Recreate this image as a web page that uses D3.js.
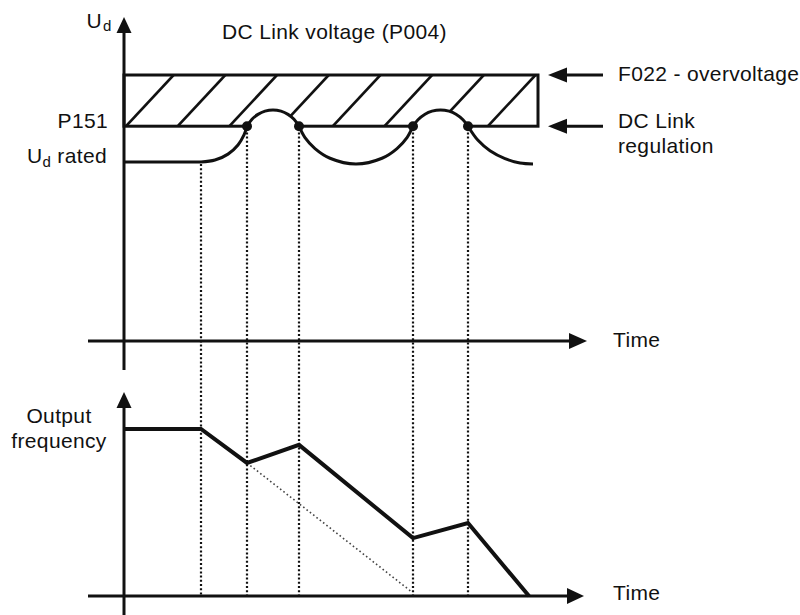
<!DOCTYPE html>
<html>
<head>
<meta charset="utf-8">
<script src="https://cdn.jsdelivr.net/npm/d3@7"></script>
<style>
  body { margin: 0; background: #fff; }
  text { font-family: "Liberation Sans", Arial, sans-serif; font-size: 21px; letter-spacing: 0.35px; fill: #111; }
</style>
</head>
<body>
<script>
// Time marks where the DC link regulation starts / stops
const events = [7.7, 12.3, 17.5, 28.9, 34.4];

// DC link levels (% of rated)
const udRated = 100;
const p151 = 120;
const f022 = 148.6;

// U_d curve, one piece between each pair of marks  [time, voltage]
const udFlat = [[0, 100], [7.7, 100]];
const udSegments = [
  [[7.7, 100], [9.1, 101.1], [10.4, 104.4], [11.4, 109.5], [12.0, 115.1], [12.3, 120]],
  [[12.3, 120], [12.8, 123.9], [13.4, 126.6], [14.1, 128.4], [14.9, 129.1], [15.7, 128.4], [16.4, 126.6], [17.0, 123.9], [17.5, 120]],
  [[17.5, 120], [18.1, 113.6], [19.1, 107.5], [20.6, 102.1], [23.2, 98.9], [25.8, 102.1], [27.3, 107.5], [28.3, 113.6], [28.9, 120]],
  [[28.9, 120], [29.4, 123.6], [30.1, 126.7], [30.8, 128.4], [31.65, 129.1], [32.5, 128.4], [33.2, 126.7], [33.9, 123.6], [34.4, 120]],
  [[34.4, 120], [35.4, 112.1], [36.6, 106.3], [38.1, 101.9], [39.6, 99.4], [40.9, 98.9]]
];
const bulges = [1, 3]; // pieces that rise above P151

// Output frequency
const freqTime = [0, 7.7, 12.3, 17.5, 28.9, 34.4, 40.5];
const freqVal = [60, 60, 47.8, 54.3, 20.8, 26.2, 0];
// ramp without regulation (dotted)
const rampTime = [12.3, 28.8];
const rampVal = [47.8, 1.4];

const width = 800, height = 615;

const svg = d3.select('body')
  .append('svg')
  .attr('width', width)
  .attr('height', height);

// Scales
const x = d3.scaleLinear().domain([0, 10]).range([124, 224]);
const yU = d3.scaleLinear().domain([0, 100]).range([341, 162]);
const yF = d3.scaleLinear().domain([0, 60]).range([596, 429]);

const ink = '#111';

function arrowHead(tx, ty, dir, len, half) {
  let pts;
  if (dir === 'up') pts = [[tx, ty], [tx - half, ty + len], [tx + half, ty + len]];
  else if (dir === 'right') pts = [[tx, ty], [tx - len, ty - half], [tx - len, ty + half]];
  else pts = [[tx, ty], [tx + len, ty - half], [tx + len, ty + half]];
  svg.append('polygon').attr('points', pts.map(p => p.join(',')).join(' ')).attr('fill', ink);
}

function hline(x1, x2, y, w) {
  svg.append('line').attr('x1', x1).attr('x2', x2).attr('y1', y).attr('y2', y)
    .attr('stroke', ink).attr('stroke-width', w);
}
function vline(xx, y1, y2, w) {
  svg.append('line').attr('x1', xx).attr('x2', xx).attr('y1', y1).attr('y2', y2)
    .attr('stroke', ink).attr('stroke-width', w);
}

// Hatched overvoltage band
svg.append('clipPath').attr('id', 'band')
  .append('rect')
  .attr('x', x(0)).attr('y', yU(f022))
  .attr('width', x(41.4) - x(0)).attr('height', yU(p151) - yU(f022));

const bandH = yU(p151) - yU(f022);
svg.append('g').attr('clip-path', 'url(#band)')
  .selectAll('line')
  .data(d3.range(-2, 9))
  .join('line')
  .attr('x1', i => x(0.2) + i * 51.7)
  .attr('y1', yU(p151))
  .attr('x2', i => x(0.2) + i * 51.7 + bandH * 0.93)
  .attr('y2', yU(f022))
  .attr('stroke', ink)
  .attr('stroke-width', 2.6);

svg.append('rect')
  .attr('x', x(0)).attr('y', yU(f022))
  .attr('width', x(41.4) - x(0)).attr('height', yU(p151) - yU(f022))
  .attr('fill', 'none').attr('stroke', ink).attr('stroke-width', 3);

// Curve
const line = d3.line()
  .x(d => x(d[0]))
  .y(d => yU(d[1]))
  .curve(d3.curveCatmullRom.alpha(0.5));

// white inside bulges (hides hatch and band border)
bulges.forEach(i => {
  const seg = udSegments[i];
  const first = seg[0], last = seg[seg.length - 1];
  svg.append('path')
    .attr('d', line(seg) + `L${x(last[0])},${yU(p151) + 2}L${x(first[0])},${yU(p151) + 2}Z`)
    .attr('fill', '#fff');
});

svg.append('path')
  .attr('d', d3.line().x(d => x(d[0])).y(d => yU(d[1]))(udFlat))
  .attr('stroke', ink)
  .attr('stroke-width', 3);

svg.selectAll('path.ud')
  .data(udSegments)
  .join('path')
  .attr('class', 'ud')
  .attr('d', line)
  .attr('fill', 'none')
  .attr('stroke', ink)
  .attr('stroke-width', 3);

// Vertical dotted guides
svg.selectAll('line.guide')
  .data(events)
  .join('line')
  .attr('class', 'guide')
  .attr('x1', d => x(d)).attr('x2', d => x(d))
  .attr('y1', (d, i) => yU(i === 0 ? udRated : p151) + 2)
  .attr('y2', yF(0))
  .attr('stroke', ink)
  .attr('stroke-width', 2.2)
  .attr('stroke-dasharray', '2,2.2');

// Regulation dots
svg.selectAll('circle.dot')
  .data(events.slice(1))
  .join('circle')
  .attr('class', 'dot')
  .attr('cx', d => x(d)).attr('cy', yU(p151))
  .attr('r', 5)
  .attr('fill', ink);

// Top axes
vline(x(0), 30, 370, 3);
arrowHead(x(0), 17, 'up', 16, 7.5);
hline(88, 572, yU(0), 3);
arrowHead(587, yU(0), 'right', 18, 8);

// Bottom axes
vline(x(0), 404, 615, 3);
arrowHead(x(0), 392, 'up', 16, 7.5);
hline(88, 570, yF(0), 3);
arrowHead(584, yF(0), 'right', 17, 8);

// Frequency
const fLine = d3.line().x(d => x(d[0])).y(d => yF(d[1]));
svg.append('path')
  .attr('d', fLine(d3.zip(rampTime, rampVal)))
  .attr('fill', 'none')
  .attr('stroke', '#444')
  .attr('stroke-width', 1.6)
  .attr('stroke-dasharray', '1.6,2.6');
svg.append('path')
  .attr('d', fLine(d3.zip(freqTime, freqVal)))
  .attr('fill', 'none')
  .attr('stroke', ink)
  .attr('stroke-width', 4);

// Side arrows
hline(566, 603, yU(f022), 3);
arrowHead(548, yU(f022), 'left', 19, 7.5);
hline(566, 603, yU(p151), 3);
arrowHead(548, yU(p151), 'left', 19, 7.5);

// Labels
function label(tx, ty, str, anchor) {
  return svg.append('text').attr('x', tx).attr('y', ty)
    .attr('text-anchor', anchor || 'start').text(str);
}
label(102, 28, 'U', 'end');
svg.append('text').attr('x', 103).attr('y', 31).style('font-size', '15px').text('d');
label(222, 39, 'DC Link voltage (P004)');
label(618, 81, 'F022 - overvoltage');
label(618, 128, 'DC Link');
label(618, 153, 'regulation');
label(108, 128, 'P151', 'end');
const rated = svg.append('text').attr('x', 107).attr('y', 163).attr('text-anchor', 'end');
rated.append('tspan').text('U');
rated.append('tspan').attr('dy', 4).style('font-size', '15px').text('d');
rated.append('tspan').attr('dy', -4).text(' rated');
label(613, 347, 'Time');
label(613, 600, 'Time');
label(59, 423, 'Output', 'middle');
label(59, 448, 'frequency', 'middle');
</script>
</body>
</html>
